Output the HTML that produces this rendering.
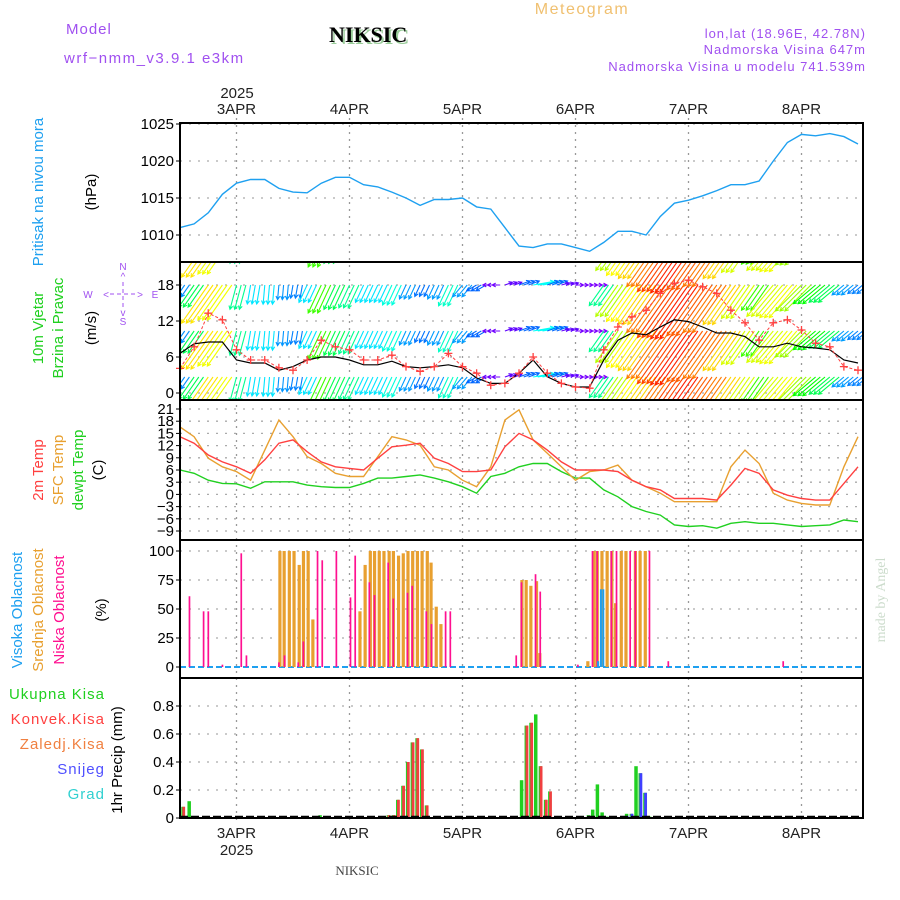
<!DOCTYPE html>
<html><head><meta charset="utf-8"><style>
html,body{margin:0;padding:0;background:#fff}
svg{display:block}
text{font-family:"Liberation Sans",sans-serif}
.serif{font-family:"Liberation Serif",serif}
</style></head><body>
<svg id="c" width="900" height="900" viewBox="0 0 900 900" xmlns="http://www.w3.org/2000/svg">
<defs>
<clipPath id="cp"><rect x="180" y="262" width="683" height="138"/></clipPath>
</defs>
<rect width="900" height="900" fill="#fff"/>
<text x="66" y="34" font-size="15" fill="#a050f0" letter-spacing="1">Model</text>
<text x="64" y="63" font-size="15" fill="#a050f0" letter-spacing="1.5">wrf−nmm_v3.9.1 e3km</text>
<text class="serif" x="331" y="44" font-size="22" font-weight="bold" fill="#9c9">NIKSIC</text>
<text class="serif" x="329" y="42" font-size="22" font-weight="bold" fill="#000">NIKSIC</text>
<text x="582" y="14" font-size="16" fill="#f0c070" text-anchor="middle" letter-spacing="1.5">Meteogram</text>
<text x="866" y="38" font-size="13" fill="#a050f0" text-anchor="end" letter-spacing="1">lon,lat (18.96E, 42.78N)</text>
<text x="866" y="54" font-size="13" fill="#a050f0" text-anchor="end" letter-spacing="1">Nadmorska Visina 647m</text>
<text x="866" y="71" font-size="13" fill="#a050f0" text-anchor="end" letter-spacing="1">Nadmorska Visina u modelu 741.539m</text>
<text x="237" y="98" font-size="15" fill="#222" text-anchor="middle">2025</text>
<text class="serif" x="357" y="875" font-size="13" fill="#444" text-anchor="middle">NIKSIC</text>
<text class="serif" transform="rotate(-90 885 600)" x="885" y="600" font-size="14" fill="#ccdccc" text-anchor="middle">made by Angel</text>
<text transform="rotate(-90 43 192)" x="43" y="192" font-size="15" fill="#1ea0f0" text-anchor="middle">Pritisak na nivou mora</text>
<text transform="rotate(-90 96 192)" x="96" y="192" font-size="15" fill="#000" text-anchor="middle">(hPa)</text>
<text transform="rotate(-90 43 328)" x="43" y="328" font-size="15" fill="#20d020" text-anchor="middle">10m Vjetar</text>
<text transform="rotate(-90 63 328)" x="63" y="328" font-size="15" fill="#20d020" text-anchor="middle">Brzina i Pravac</text>
<text transform="rotate(-90 96 328)" x="96" y="328" font-size="15" fill="#000" text-anchor="middle">(m/s)</text>
<g fill="#a050f0" font-size="10" text-anchor="middle">
<text x="123" y="270">N</text><text x="123" y="325">S</text><text x="88" y="298">W</text><text x="155" y="298">E</text>
<text x="123" y="280">^</text><text x="123" y="316">v</text>
<text x="106" y="298">&lt;</text><text x="140" y="298">&gt;</text>
<line x1="110" y1="294" x2="136" y2="294" stroke="#a050f0" stroke-dasharray="4,3"/>
<line x1="123" y1="282" x2="123" y2="308" stroke="#a050f0" stroke-dasharray="4,3"/>
</g>
<text transform="rotate(-90 43 470)" x="43" y="470" font-size="15" fill="#ff4040" text-anchor="middle">2m Temp</text>
<text transform="rotate(-90 63 470)" x="63" y="470" font-size="15" fill="#e8a030" text-anchor="middle">SFC Temp</text>
<text transform="rotate(-90 83 470)" x="83" y="470" font-size="15" fill="#20d020" text-anchor="middle">dewpt Temp</text>
<text transform="rotate(-90 103 470)" x="103" y="470" font-size="15" fill="#000" text-anchor="middle">(C)</text>
<text transform="rotate(-90 22 610)" x="22" y="610" font-size="15" fill="#1ea0f0" text-anchor="middle">Visoka Oblacnost</text>
<text transform="rotate(-90 43 610)" x="43" y="610" font-size="15" fill="#e8a030" text-anchor="middle">Srednja Oblacnost</text>
<text transform="rotate(-90 64 610)" x="64" y="610" font-size="15" fill="#ff1090" text-anchor="middle">Niska Oblacnost</text>
<text transform="rotate(-90 106 610)" x="106" y="610" font-size="15" fill="#000" text-anchor="middle">(%)</text>
<g font-size="15" text-anchor="end" letter-spacing="1">
<text x="105" y="699" fill="#20d020">Ukupna Kisa</text>
<text x="105" y="724" fill="#ff4040">Konvek.Kisa</text>
<text x="105" y="749" fill="#f08040">Zaledj.Kisa</text>
<text x="105" y="774" fill="#5050ff">Snijeg</text>
<text x="105" y="799" fill="#30d0d0">Grad</text>
</g>
<text transform="rotate(-90 122 760)" x="122" y="760" font-size="15" fill="#000" text-anchor="middle">1hr Precip (mm)</text>
<g id="g"></g>
</svg>
<script>
const dayLabels=["3APR","4APR","5APR","6APR","7APR","8APR"];
const dayHours=[12,36,60,84,108,132];
const pressure=[1011,1011.5,1013,1015.5,1017,1017.5,1017.5,1016.3,1015.8,1015.7,1017,1017.8,1017.8,1016.8,1016.5,1015.8,1015,1014,1014.8,1014.8,1015,1013.8,1013.5,1011,1008.5,1008.3,1008.8,1008.8,1008.3,1007.8,1009,1010.5,1010.5,1010,1012.5,1014.3,1014.7,1015.3,1016,1016.8,1016.8,1017.3,1020,1022.5,1023.6,1023.4,1023.7,1023.3,1022.3];
const windMax=[4.1,7.7,13.3,12.2,7.2,5.5,5.5,4.2,3.8,5.5,8.8,7.7,7.2,5.5,5.5,6.3,4.4,3.6,4.4,6.6,4.4,3.3,1.3,1.6,3.3,6,3.3,1.6,1,0.8,7.2,11,12.7,13.8,16.6,18.3,18.8,17.7,16.6,13.8,11.7,8.8,11.7,12.2,10.5,8.3,7.7,4.4,3.8];
const windMean=[6.6,8.2,8.5,8.5,5.5,5,5,3.8,4.4,5.5,6,6,5.5,4.7,4.7,5.3,4.4,4.2,4.4,4.7,4.2,2.5,1.6,1.6,3.3,5.5,2.7,1.6,1,1,5.5,8.8,10,9.7,11,12.2,11.9,11,10,10,9.4,7.7,7.7,8.3,7.7,7.5,7.2,5.5,5];
const windDir=[35,35,35,35,15,10,5,5,10,25,25,25,25,25,25,25,25,25,25,25,40,60,90,250,250,260,250,255,270,270,35,35,35,35,35,35,35,35,35,35,35,35,40,40,45,50,50,50,50];
const temp2m=[14.2,12.6,9.7,8.0,6.8,5.2,8.5,12.6,13.4,10.5,8.0,6.8,6.4,6.0,8.9,11.7,12.1,12.6,8.9,7.6,5.6,5.6,6.0,11.7,15.0,13.4,10.9,8.0,6.0,6.0,6.0,5.6,3.5,1.9,1.1,-1.0,-1.0,-1.0,-1.4,2.3,6.4,5.2,1.1,-0.2,-1.0,-1.4,-1.4,2.7,6.8];
const tempSfc=[16.6,14.2,8.9,6.8,5.6,3.5,10.9,18.3,14.2,9.3,7.6,5.2,4.4,4.4,9.3,14.2,13.4,12.1,6.8,6.0,3.5,1.9,6.8,18.3,20.8,13.4,10.1,6.8,3.5,5.6,6.0,7.2,3.5,1.9,0.3,-1.8,-1.8,-1.8,-1.8,6.8,10.9,7.6,0.3,-1.4,-2.2,-2.6,-2.6,6.8,14.2];
const dewpt=[6.0,5.2,3.5,2.7,2.6,1.5,3.1,3.1,3.1,2.3,1.9,1.7,1.7,2.7,4.0,4.0,4.4,4.8,4.0,3.1,1.9,0.3,4.4,5.2,6.8,7.6,7.6,5.6,4.0,4.0,1.1,-0.6,-3.0,-4.2,-5.1,-7.5,-7.9,-7.7,-8.3,-7.1,-6.7,-7.1,-7.1,-7.5,-7.9,-7.7,-7.5,-6.3,-6.7];
const lowHours=[2.0,5.0,6.0,9.0,13.0,14.1,21.0,22.2,25.1,26.2,29.2,30.2,33.2,36.2,37.2,40.2,41.3,44.2,45.3,48.3,49.3,52.3,53.4,56.4,57.4,71.4,72.5,75.5,76.5,84.5,87.6,88.6,91.6,92.7,95.6,96.7,99.7,103.7,128.1];
const lowVals=[61,48,48,2,98,10,4,10,4,22,100,92,100,60,96,73,62,90,59,64,70,48,37,48,48,10,73,80,65,2,100,100,100,100,100,100,100,5,5];
const midHours=[21.2,22.1,23.2,24.2,25.3,26.2,27.2,28.2,38.2,39.3,40.4,41.3,42.3,43.3,44.4,45.3,46.4,47.4,48.4,49.4,50.4,51.4,52.5,53.3,54.4,55.4,72.6,73.5,74.5,75.7,76.4,86.6,87.9,88.6,89.6,90.7,91.7,92.5,93.7,94.7,96.7,97.7,98.8];
const midVals=[100,100,100,100,88,100,100,41,48,88,100,100,100,100,100,100,96,98,100,100,100,100,100,90,52,37,75,75,70,74,12,5,100,100,100,100,100,55,100,100,100,100,100];
const highHours=[88.8,89.4,89.9];
const highVals=[5,67,67];
const precipHours=[0.6,1.9,29.7,44.2,45.3,46.2,47.3,48.3,49.3,50.3,51.3,52.3,72.5,73.5,74.5,75.5,76.5,77.6,78.5,86.7,87.6,88.6,89.6,90.6,94.8,95.8,96.8,97.7,98.7,99.7];
const precipTotal=[0.08,0.12,0.02,0.02,0.02,0.13,0.23,0.40,0.54,0.57,0.49,0.09,0.27,0.66,0.68,0.74,0.37,0.13,0.19,0.02,0.06,0.24,0.04,0.01,0.03,0.03,0.37,0.32,0.18,0.01];
const precipConv=[0.08,0,0,0.02,0.02,0.13,0.23,0.40,0.54,0.57,0.49,0.09,0,0.66,0.68,0,0.37,0.13,0.19,0,0,0,0,0,0,0,0,0,0,0];
const precipSnow=[0,0,0,0,0,0,0,0,0,0,0,0,0,0,0,0,0,0,0,0,0,0,0,0,0.015,0.03,0,0.32,0.18,0];
const pTicks=[1010,1015,1020,1025];
const wTicks=[0,6,12,18];
const tTicks=[21,18,15,12,9,6,3,0,-3,-6,-9];
const cTicks=[0,25,50,75,100];
const rTicks=[0,0.2,0.4,0.6,0.8];

const NS="http://www.w3.org/2000/svg";
const G=document.getElementById('g');
const PXH=113/24;
const xOf=h=>180+h*PXH;
const yP=v=>124+(1025-v)*7.4;
const yW=v=>393-v*6;
const yT=v=>409+(21-v)*4.067;
const yC=v=>667-v*1.16;
const yR=v=>818-v*140;
function el(tag,attrs,parent){const e=document.createElementNS(NS,tag);for(const k in attrs)e.setAttribute(k,attrs[k]);(parent||G).appendChild(e);return e;}
const panels=[[123,262],[262,400],[400,540],[540,678],[678,818]];
const grid=el('g',{});


dayHours.forEach(h=>{el('line',{x1:xOf(h),x2:xOf(h),y1:118,y2:822,stroke:'#999','stroke-dasharray':'2,5','stroke-width':1.3},grid);});
function hgrid(ticks,f){ticks.forEach(v=>el('line',{x1:180,x2:863,y1:f(v),y2:f(v),stroke:'#aaa','stroke-dasharray':'2,7','stroke-width':1.3},grid));}
hgrid(pTicks,yP);hgrid(wTicks,yW);hgrid(tTicks,yT);hgrid(cTicks,yC);hgrid(rTicks,yR);
function ticks(arr,f,name,fmt){const g=el('g',{});


arr.forEach(v=>{const t=el('text',{x:174,y:f(v)+5,'text-anchor':'end','font-size':15,fill:'#000'},g);t.textContent=fmt?fmt(v):String(v).replace('-','−');el('line',{x1:176,x2:180,y1:f(v),y2:f(v),stroke:'#000'},g);});}
ticks(pTicks,yP,'pressure-y-ticks');ticks(wTicks,yW,'wind-y-ticks');ticks(tTicks,yT,'temp-y-ticks');ticks(cTicks,yC,'cloud-y-ticks');
ticks(rTicks,yR,'precip-y-ticks',v=>v===0?'0':v.toFixed(1));
dayLabels.forEach((d,i)=>{const x=xOf(dayHours[i]);
const t=el('text',{x:x,y:114,'text-anchor':'middle','font-size':15,fill:'#222'});t.textContent=d;


const b=el('text',{x:x,y:838,'text-anchor':'middle','font-size':15,fill:'#222'});b.textContent=d;


});
const yr=el('text',{x:xOf(12),y:855,'text-anchor':'middle','font-size':15,fill:'#222'});yr.textContent='2025';


function series(arr,xf,yf,color,name,w){const d=arr.map((v,i)=>(i?'L':'M')+xf(i).toFixed(1)+','+yf(v).toFixed(1)).join('');
const p=el('path',{d:d,fill:'none',stroke:color,'stroke-width':w||1.4});


return p;}
const xi=i=>xOf(i*3);
series(pressure,xi,yP,'#1ea0f0','pressure-line');
function hue(s){const st=[[0,275],[1.5,265],[3,220],[5,195],[7,160],[9,100],[12,65],[15,40],[18,20],[20,350]];
if(s<=st[0][0])return st[0][1];for(let k=1;k<st.length;k++){if(s<=st[k][0]){const a=st[k-1],b=st[k],f=(s-a[0])/(b[0]-a[0]);let h1=a[1],h2=b[1];if(h2-h1>180)h2-=360;if(h1-h2>180)h2+=360;return (h1+(h2-h1)*f+360)%360;}}return 350;}
const wg=el('g',{'clip-path':'url(#cp)'});


const bands=[239,285,331,377];
windMax.forEach((s,i)=>{const a=(windDir[i]+180)*Math.PI/180;const L=Math.max(8,s*3.5);
const dx=Math.sin(a)*L,dy=-Math.cos(a)*L;const col='hsl('+hue(s).toFixed(0)+',100%,50%)';
for(let r=0;r<3;r++){const x0=xi(i)+r*PXH;if(x0>870)continue;
bands.forEach(y0=>{const x1=x0+dx,y1=y0+dy;const ang=Math.atan2(dy,dx);
const h1x=x1-4*Math.cos(ang-0.5),h1y=y1-4*Math.sin(ang-0.5),h2x=x1-4*Math.cos(ang+0.5),h2y=y1-4*Math.sin(ang+0.5);
el('path',{d:`M${x0.toFixed(1)},${y0}L${x1.toFixed(1)},${y1.toFixed(1)}M${h1x.toFixed(1)},${h1y.toFixed(1)}L${x1.toFixed(1)},${y1.toFixed(1)}L${h2x.toFixed(1)},${h2y.toFixed(1)}`,stroke:col,'stroke-width':1.1,fill:'none'},wg);});}});
series(windMean,xi,yW,'#000','wind-mean-line',1.2);
const wmax=series(windMax,xi,yW,'#ff4040','wind-gust-line',1);
wmax.setAttribute('stroke-dasharray','3,2');
const gm=el('g',{});


windMax.forEach((v,i)=>{const x=xi(i),y=yW(v);el('path',{d:`M${x-4},${y}H${x+4}M${x},${y-4}V${y+4}`,stroke:'#ff4040','stroke-width':1.3},gm);});
series(dewpt,xi,yT,'#20d020','dewpoint-line');
series(tempSfc,xi,yT,'#e8a030','sfc-temp-line');
series(temp2m,xi,yT,'#ff4040','temp-2m-line');
const cb=el('g',{});


el('line',{x1:180,x2:863,y1:yC(0),y2:yC(0),stroke:'#1ea0f0','stroke-width':2,'stroke-dasharray':'6,3'},cb);
midHours.forEach((h,i)=>{const b=el('rect',{x:xOf(h)-1.5,y:yC(midVals[i]),width:3.2,height:yC(0)-yC(midVals[i]),fill:'#e8a030'},cb);
});
lowHours.forEach((h,i)=>{const b=el('rect',{x:xOf(h)-0.8,y:yC(lowVals[i]),width:1.7,height:yC(0)-yC(lowVals[i]),fill:'#ff1090'},cb);
});
highHours.forEach((h,i)=>{const b=el('rect',{x:xOf(h)-1,y:yC(highVals[i]),width:2,height:yC(0)-yC(highVals[i]),fill:'#1ea0f0'},cb);
});
const pb=el('g',{});


precipHours.forEach((h,i)=>{const x=xOf(h);
if(precipTotal[i]>0){const b=el('rect',{x:x-1.5,y:yR(precipTotal[i]),width:3.5,height:yR(0)-yR(precipTotal[i]),fill:'#20d020'},pb);
}
if(precipConv[i]>0){const b=el('rect',{x:x-0.5,y:yR(precipConv[i]),width:2.8,height:yR(0)-yR(precipConv[i]),fill:'#f04040'},pb);
}
if(precipSnow[i]>0){const b=el('rect',{x:x-0.5,y:yR(precipSnow[i]),width:2.8,height:yR(0)-yR(precipSnow[i]),fill:'#4040ff'},pb);
}});
el('line',{x1:180,x2:863,y1:817,y2:817,stroke:'#000','stroke-width':2.5,'stroke-dasharray':'8,3'},pb);
panels.forEach(([a,b])=>{const r=el('rect',{x:180,y:a,width:683,height:b-a,fill:'none',stroke:'#000','stroke-width':2});

});
</script>
</body></html>
